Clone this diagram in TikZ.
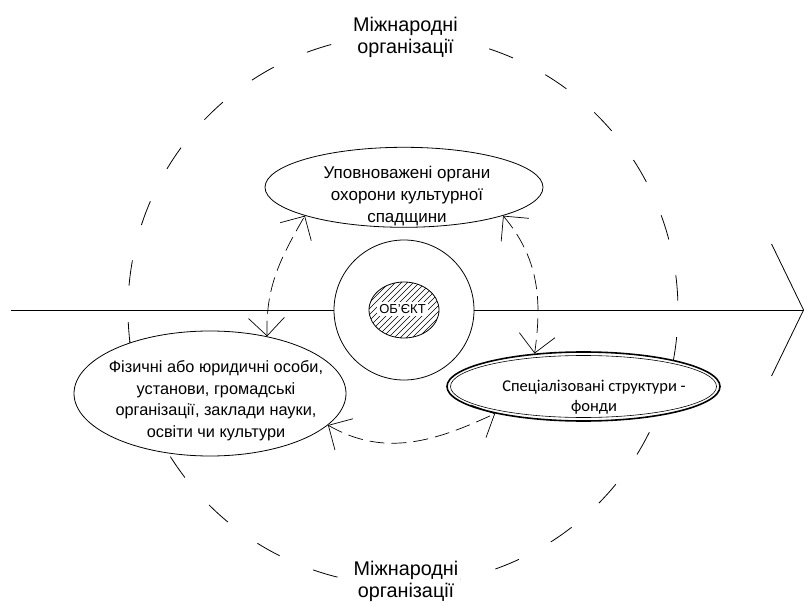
\documentclass[tikz,border=0pt]{standalone}
\usepackage{fontspec}
\setmainfont{Liberation Sans}
\newfontfamily\calib{Carlito}
\usetikzlibrary{shapes.geometric,arrows.meta}
\begin{document}
\begin{tikzpicture}[x=1pt,y=1pt,
 ell/.style={ellipse,draw,fill=white,line width=0.8pt,inner sep=0pt},
 dasharrow/.style={line width=0.7pt,dash pattern=on 15pt off 7pt,{Straight Barb[length=18pt,width=36pt]}-{Straight Barb[length=18pt,width=36pt]}},
 bigdash/.style={line width=0.8pt,dash pattern=on 25.4pt off 36.5pt},
 txt/.style={align=center,inner sep=0pt,font=\fontsize{17pt}{21.7pt}\selectfont},
 intl/.style={align=center,fill=white,inner sep=2pt,font=\fontsize{19.8pt}{22.5pt}\selectfont}]
\useasboundingbox (0,0) rectangle (805,603);
\coordinate (C) at (403,293);
% big dashed circle (two arcs)
\draw[bigdash] ([shift={(187.8:275)}]C) arc[start angle=187.8,end angle=-10.9,radius=275];
\draw[bigdash] ([shift={(-26.4:275)}]C) arc[start angle=-26.4,end angle=-173.6,radius=275];
% axis
\coordinate (L0) at (11,293);
\coordinate (tip) at (804,293);
\node[circle,draw,fill=white,line width=0.8pt,minimum size=140pt,inner sep=0pt] (ring) at (404,293) {};
\draw[line width=0.8pt] (L0) -- (ring.west);
\draw[line width=0.8pt,-{Straight Barb[length=32pt,width=132pt]}] (ring.east) -- (tip);
% hatched object
\node[ellipse,minimum width=70pt,minimum height=56pt,inner sep=0pt] (obj) at (404,293) {};
\begin{scope}
\clip (obj.center) ellipse[x radius=35,y radius=28];
\foreach \i in {-84,-78,...,84} \draw[line width=0.5pt] (404+\i-40,253) -- ++(80,80);
\end{scope}
\draw[line width=0.8pt] (obj.center) ellipse[x radius=35,y radius=28];
\node[fill=white,inner sep=2.5pt,font=\fontsize{13pt}{15pt}\selectfont] (objt) at (402.5,294) {ОБ'ЄКТ};
% ellipses
\node[ell,minimum width=278pt,minimum height=80pt] (T) at (404,415.7) {};
\node[txt] (Tt) at (407,407) {Уповноважені органи\\охорони культурної\\спадщини};
\node[ell,minimum width=272pt,minimum height=125pt] (L) at (210,209.5) {};
\node[txt,font=\fontsize{16.3pt}{21.7pt}\selectfont] (Lt) at (216,202.3) {Фізичні або юридичні особи,\\установи, громадські\\організації, заклади науки,\\освіти чи культури};
\node[ell,line width=1.6pt,minimum width=273pt,minimum height=69pt] (R) at (583.5,216.5) {};
\node[ellipse,draw,line width=0.6pt,minimum width=266pt,minimum height=62pt,inner sep=0pt] (Ri) at (R.center) {};
\node[align=center,inner sep=0pt,font=\calib\fontsize{16.5pt}{19.5pt}\selectfont] (Rt) at (594,206) {Спеціалізовані структури -\\фонди};
% dashed arrows
\draw[dasharrow] (L.45) to[out=92,in=240] (T.196);
\draw[dasharrow] (T.344) to[out=-50,in=82] (R.146);
\draw[dasharrow] (L.345) to[out=-30,in=205] (R.197);
% labels
\node[intl] (intlT) at (405.5,565.6) {Міжнародні\\організації};
\node[intl] (intlB) at (406,21.5) {Міжнародні\\організації};
\end{tikzpicture}
\end{document}
